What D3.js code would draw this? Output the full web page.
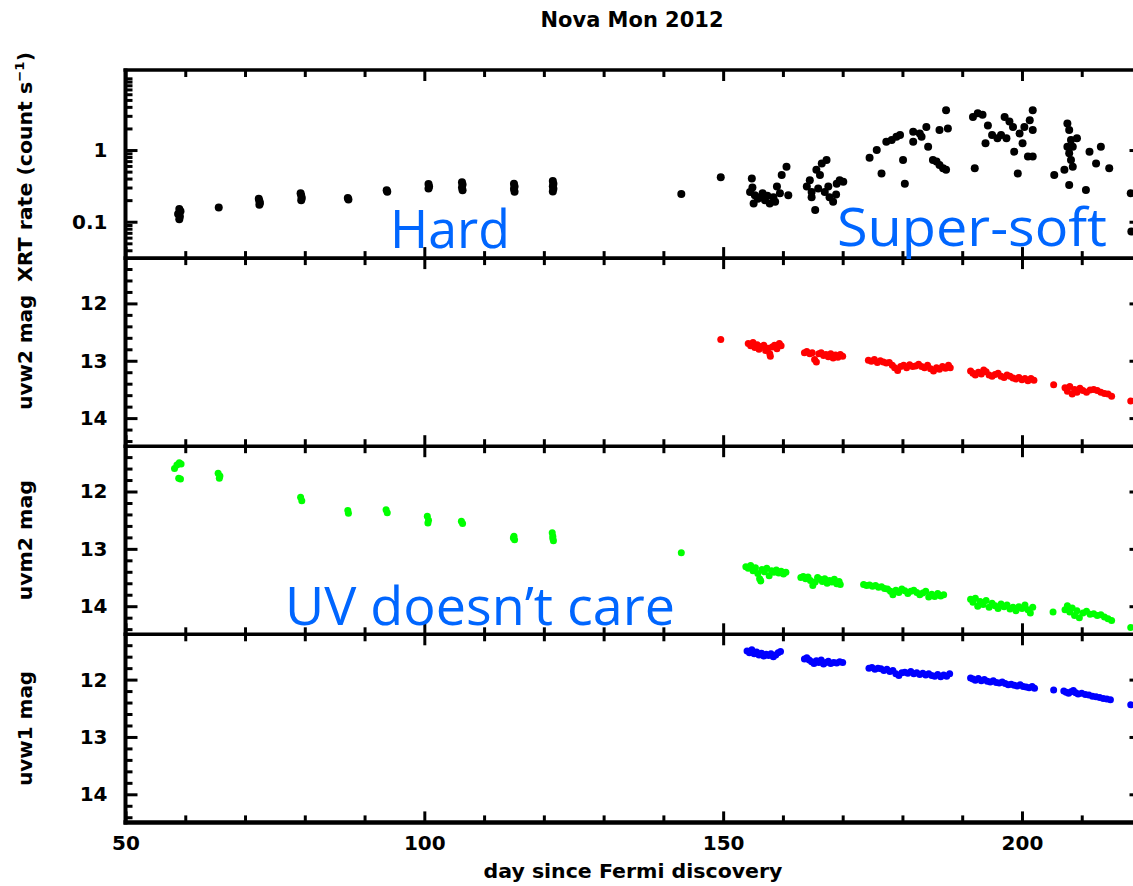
<!DOCTYPE html>
<html>
<head>
<meta charset="utf-8">
<script src="https://cdn.jsdelivr.net/npm/d3@7"></script>
<style>
  html, body { margin: 0; padding: 0; background: #fff; }
  svg { display: block; }
  .lbl { font-family: "DejaVu Sans", sans-serif; font-weight: bold; fill: #000; }
  .note { font-family: "Open Sans", sans-serif; font-weight: 400; fill: #0066ff; }
</style>
</head>
<body>
<svg id="chart" width="1133" height="886"></svg>
<script>
// ---- labels and ticks ----
const chartTitle = "Nova Mon 2012";
const xTitle = "day since Fermi discovery";
const xMajorTicks = [50, 100, 150, 200];
const xMinorTicks = [60, 70, 80, 90, 110, 120, 130, 140, 160, 170, 180, 190, 210];
const rateMajorTicks = [0.1, 1];
const rateMinorTicks = [0.04, 0.05, 0.06, 0.07, 0.08, 0.09, 0.2, 0.3, 0.4, 0.5, 0.6, 0.7, 0.8, 0.9, 2, 3, 4, 5, 6, 7, 8, 9, 10];
const magMajorTicks = [12, 13, 14];
const magMinorTicks = [11.4, 11.6, 11.8, 12.2, 12.4, 12.6, 12.8, 13.2, 13.4, 13.6, 13.8, 14.2, 14.4];
const notes = ["Hard", "Super-soft", "UV doesn\u2019t care"];

// ---- XRT count rate: [day, count/s] ----
const xrtRate = [
  [59.0,0.150],[59.2,0.140],[58.8,0.128],[59.1,0.118],[59.0,0.108],
  [65.6,0.158],
  [72.3,0.210],[72.4,0.195],[72.5,0.182],[72.4,0.172],
  [79.3,0.250],[79.4,0.232],[79.5,0.215],[79.4,0.200],
  [87.2,0.215],[87.3,0.205],
  [93.7,0.275],[93.8,0.262],
  [100.7,0.335],[100.8,0.310],[100.7,0.290],
  [106.3,0.355],[106.4,0.330],[106.3,0.300],[106.4,0.275],
  [115.0,0.340],[115.1,0.310],[115.0,0.285],[115.1,0.262],
  [121.5,0.370],[121.6,0.340],[121.5,0.312],[121.6,0.288],[121.5,0.265],
  [143.0,0.243],
  [149.6,0.416],
  [154.8,0.40],[154.5,0.26],[155.3,0.235],[155.1,0.18],[156.2,0.22],[157.0,0.20],
  [157.8,0.18],[158.4,0.22],[159.0,0.31],[159.8,0.45],[160.6,0.585],[160.9,0.235],
  [159.5,0.25],[158.7,0.19],[156.6,0.25],[157.4,0.23],[155.8,0.21],[154.9,0.30],
  [164.0,0.31],[164.5,0.38],[164.8,0.22],[165.4,0.146],[165.6,0.53],[166.2,0.45],
  [166.5,0.65],[167.3,0.725],[167.0,0.26],[167.8,0.22],[168.4,0.19],[169.0,0.34],
  [169.5,0.38],[170.1,0.36],[167.6,0.31],[164.8,0.26],[165.9,0.29],[168.9,0.24],
  [174.5,0.78],[175.7,1.00],[176.5,0.47],[177.3,1.30],[178.2,1.38],[179.0,1.53],
  [179.6,1.62],[180.1,0.725],[180.4,0.34],[181.8,1.30],[181.8,1.80],[182.9,1.70],
  [183.2,1.53],[184.0,2.10],[184.3,1.11],[185.1,0.725],[185.7,0.69],[186.2,0.62],
  [186.8,0.555],[187.3,0.53],[186.2,1.90],[187.6,2.00],[187.3,3.60],
  [191.8,2.90],[192.6,3.25],[193.4,3.10],[194.3,2.20],[192.1,0.555],[193.9,1.24],
  [195.0,1.62],[195.9,1.46],[197.1,2.90],[197.9,2.50],[198.5,2.10],[198.7,0.95],
  [199.3,0.47],[199.6,1.70],[200.1,1.24],[200.4,2.10],[201.3,2.60],[201.8,3.60],
  [201.8,1.90],[201.0,0.81],[201.8,0.81],[197.4,1.46],[196.5,1.62],
  [205.4,0.45],[207.1,0.53],[207.6,2.35],[207.9,1.90],[208.2,1.38],[207.6,1.11],
  [207.9,0.90],[208.2,0.725],[208.5,0.585],[207.9,0.325],[209.2,1.46],[208.5,1.11],
  [210.7,0.277],[211.3,0.95],[212.4,0.65],[213.2,1.11],[214.6,0.555],
  [218.2,0.25],[218.3,0.073]
];

// ---- UVOT uvw2 magnitudes: [day, mag] ----
const uvw2Mag = [
  [149.6,12.63],
  [154.2,12.70],[154.6,12.74],[155.0,12.68],[155.3,12.77],[155.7,12.72],[156.0,12.80],
  [156.4,12.75],[156.8,12.73],[157.1,12.82],[157.5,12.78],[157.8,12.88],[158.2,12.76],
  [158.6,12.73],[159.0,12.79],[159.4,12.70],[159.7,12.74],[157.9,12.92],
  [163.6,12.86],[164.0,12.84],[164.5,12.88],[164.9,12.86],[165.3,12.98],[165.6,13.02],
  [166.0,12.88],[166.4,12.86],[166.8,12.91],[167.2,12.89],[167.6,12.93],[168.0,12.88],
  [168.4,12.95],[168.8,12.90],[169.2,12.94],[169.6,12.89],[170.0,12.92],
  [174.3,12.99],[174.8,13.01],[175.3,12.98],[175.8,13.03],[176.3,13.00],[176.8,13.02],
  [177.3,13.04],[177.8,13.03],[178.3,13.08],[178.7,13.12],[179.2,13.17],[179.7,13.10],
  [180.2,13.08],[180.7,13.12],[181.2,13.07],[181.7,13.10],[182.2,13.09],[182.7,13.06],
  [183.2,13.10],[183.7,13.12],[184.2,13.08],[184.7,13.14],[185.2,13.18],[185.7,13.12],
  [186.2,13.15],[186.7,13.10],[187.2,13.13],[187.7,13.08],[188.0,13.12],
  [191.4,13.18],[191.8,13.22],[192.2,13.25],[192.7,13.20],[193.2,13.23],[193.6,13.16],
  [194.0,13.19],[194.5,13.25],[195.0,13.27],[195.5,13.24],[196.0,13.22],[196.5,13.27],
  [197.0,13.29],[197.5,13.25],[198.0,13.27],[198.5,13.30],[199.0,13.32],[199.5,13.29],
  [200.0,13.33],[200.5,13.31],[201.0,13.35],[201.5,13.31],[202.0,13.34],
  [205.3,13.42],
  [207.2,13.47],[207.6,13.53],[208.0,13.45],[208.4,13.58],[208.8,13.50],[209.2,13.55],
  [209.7,13.48],[210.2,13.52],[210.8,13.55],[211.4,13.51],[212.0,13.50],[212.6,13.52],
  [213.2,13.55],[213.8,13.57],[214.4,13.58],[215.0,13.62],
  [218.2,13.70]
];

// ---- UVOT uvm2 magnitudes: [day, mag] ----
const uvm2Mag = [
  [58.2,11.60],[58.6,11.54],[59.0,11.50],[59.3,11.52],[58.9,11.77],[59.2,11.78],
  [65.5,11.68],[65.8,11.73],[65.7,11.77],
  [79.3,12.10],[79.5,12.16],
  [87.2,12.33],[87.3,12.38],
  [93.6,12.32],[93.8,12.37],
  [100.5,12.43],[100.7,12.50],[100.6,12.55],
  [106.2,12.52],[106.4,12.56],
  [115.0,12.78],[115.1,12.84],[114.9,12.81],
  [121.4,12.72],[121.5,12.78],[121.6,12.86],[121.5,12.82],
  [143.0,13.07],
  [153.8,13.31],[154.2,13.34],[154.6,13.29],[155.0,13.38],[155.4,13.33],[155.8,13.43],
  [156.1,13.52],[156.5,13.36],[156.9,13.40],[157.3,13.34],[157.7,13.47],[158.1,13.38],
  [158.5,13.41],[158.9,13.37],[159.3,13.42],[159.7,13.39],[160.1,13.44],[160.5,13.41],
  [156.3,13.56],
  [163.0,13.50],[163.4,13.48],[163.8,13.52],[164.2,13.49],[164.6,13.55],[165.0,13.64],
  [165.4,13.58],[165.8,13.50],[166.2,13.53],[166.6,13.57],[167.0,13.52],[167.4,13.60],
  [167.8,13.55],[168.2,13.58],[168.6,13.53],[169.0,13.61],[169.4,13.57],[169.6,13.62],
  [173.5,13.62],[174.0,13.64],[174.5,13.63],[175.0,13.65],[175.5,13.64],[176.0,13.67],
  [176.5,13.66],[177.0,13.69],[177.5,13.70],[178.0,13.74],[178.4,13.80],[178.9,13.72],
  [179.4,13.76],[179.9,13.70],[180.4,13.73],[180.9,13.78],[181.4,13.74],[181.9,13.72],
  [182.4,13.76],[182.9,13.80],[183.4,13.77],[183.9,13.74],[184.4,13.84],[184.9,13.79],
  [185.4,13.83],[185.9,13.78],[186.4,13.82],[186.9,13.80],
  [191.4,13.88],[191.8,13.93],[192.2,13.86],[192.6,14.00],[193.0,13.92],[193.5,13.97],
  [194.0,13.90],[194.5,14.02],[195.0,13.95],[195.5,13.99],[196.0,14.04],[196.5,13.96],
  [197.0,14.01],[197.5,13.98],[198.0,14.05],[198.5,14.02],[199.0,14.08],[199.5,14.01],
  [200.0,14.04],[200.5,13.98],[201.0,14.06],[201.4,14.12],[201.8,14.02],
  [205.2,14.10],
  [207.2,14.06],[207.6,13.99],[208.0,14.10],[208.4,14.03],[208.8,14.16],[209.2,14.08],
  [209.6,14.20],[210.2,14.12],[210.8,14.09],[211.4,14.14],[212.0,14.13],[212.6,14.16],
  [213.2,14.15],[213.8,14.19],[214.4,14.22],[215.0,14.25],
  [218.2,14.37]
];

// ---- UVOT uvw1 magnitudes: [day, mag] ----
const uvw1Mag = [
  [154.0,11.50],[154.4,11.53],[154.8,11.48],[155.2,11.55],[155.6,11.52],[156.0,11.57],
  [156.4,11.54],[156.8,11.59],[157.2,11.56],[157.6,11.58],[158.0,11.55],[158.4,11.60],
  [158.8,11.57],[159.2,11.53],[159.6,11.51],
  [163.6,11.64],[164.0,11.62],[164.4,11.66],[164.8,11.69],[165.2,11.72],[165.6,11.67],
  [166.0,11.70],[166.4,11.66],[166.8,11.73],[167.2,11.70],[167.6,11.68],[168.0,11.72],
  [168.5,11.70],[169.0,11.71],[169.5,11.69],[170.0,11.70],
  [174.4,11.80],[174.9,11.79],[175.4,11.82],[175.9,11.80],[176.4,11.81],[176.9,11.84],
  [177.4,11.82],[177.9,11.86],[178.4,11.84],[178.9,11.90],[179.4,11.93],[179.9,11.88],
  [180.4,11.87],[180.9,11.89],[181.4,11.86],[181.9,11.90],[182.4,11.88],[182.9,11.91],
  [183.4,11.89],[183.9,11.92],[184.4,11.90],[184.9,11.93],[185.4,11.94],[185.9,11.91],
  [186.4,11.95],[186.9,11.92],[187.4,11.94],[187.9,11.90],
  [191.4,11.97],[191.8,11.99],[192.2,12.01],[192.7,11.98],[193.2,12.02],[193.7,12.00],
  [194.2,12.03],[194.7,12.04],[195.2,12.02],[195.7,12.05],[196.2,12.06],[196.7,12.04],
  [197.2,12.07],[197.7,12.09],[198.2,12.08],[198.7,12.10],[199.2,12.11],[199.7,12.09],
  [200.2,12.12],[200.7,12.13],[201.2,12.14],[201.7,12.12],[202.1,12.15],
  [205.3,12.18],
  [207.0,12.20],[207.4,12.22],[207.8,12.24],[208.2,12.21],[208.6,12.19],[209.0,12.23],
  [209.4,12.25],[210.0,12.24],[210.6,12.26],[211.2,12.27],[211.8,12.29],[212.4,12.30],
  [213.0,12.31],[213.6,12.33],[214.2,12.34],[214.8,12.35],
  [218.2,12.44]
];

// ---- layout ----
const svg = d3.select("#chart");
const left = 125.5, right = 1141.5;
const top0 = 70, panelH = 188.1;
const panelTop = i => top0 + i * panelH;

const x = d3.scaleLinear().domain([50, 220]).range([left, right]);

const yRate = d3.scaleLog().domain([0.0311, 13.07]).range([panelTop(0) + panelH, panelTop(0)]);
const magScale = i => d3.scaleLinear().domain([11.21, 14.49]).range([panelTop(i), panelTop(i) + panelH]);

const panels = [
  { y: yRate, data: xrtRate, color: "#000000", r: 4, major: rateMajorTicks, minor: rateMinorTicks,
    fmt: d => (d < 1 ? d3.format(".1f")(d) : d3.format("d")(d)) },
  { y: magScale(1), data: uvw2Mag, color: "#ff0000", r: 3.5, major: magMajorTicks, minor: magMinorTicks, fmt: d3.format("d") },
  { y: magScale(2), data: uvm2Mag, color: "#00ff00", r: 3.5, major: magMajorTicks, minor: magMinorTicks, fmt: d3.format("d") },
  { y: magScale(3), data: uvw1Mag, color: "#0000ff", r: 3.5, major: magMajorTicks, minor: magMinorTicks, fmt: d3.format("d") }
];

svg.append("defs").append("clipPath").attr("id", "plotClip")
  .append("rect").attr("x", left).attr("y", top0).attr("width", right - left).attr("height", panelH * 4);

function styleAxis(g) {
  g.select(".domain").remove();
  g.selectAll(".tick line").attr("stroke", "#000").attr("stroke-width", 3);
  g.selectAll(".tick text").attr("class", "lbl").attr("font-size", 20).attr("fill", "#000");
}

// data points
panels.forEach(p => {
  svg.append("g").attr("clip-path", "url(#plotClip)")
    .selectAll("circle").data(p.data).join("circle")
    .attr("cx", d => x(d[0])).attr("cy", d => p.y(d[1]))
    .attr("r", p.r).attr("fill", p.color);
});

// axes for each panel
panels.forEach((p, i) => {
  const t = panelTop(i), b = t + panelH;
  // left: labelled major ticks + minor ticks, pointing inward
  svg.append("g").attr("transform", `translate(${left},0)`)
    .call(d3.axisLeft(p.y).tickValues(p.major).tickFormat(p.fmt).tickSize(-12).tickPadding(18))
    .call(styleAxis);
  svg.append("g").attr("transform", `translate(${left},0)`)
    .call(d3.axisLeft(p.y).tickValues(p.minor).tickFormat("").tickSize(-7))
    .call(styleAxis);
  // right: mirrored ticks
  svg.append("g").attr("transform", `translate(${right},0)`)
    .call(d3.axisRight(p.y).tickValues(p.major).tickFormat("").tickSize(-12))
    .call(styleAxis);
  svg.append("g").attr("transform", `translate(${right},0)`)
    .call(d3.axisRight(p.y).tickValues(p.minor).tickFormat("").tickSize(-7))
    .call(styleAxis);
  // top and bottom edges: inward ticks
  svg.append("g").attr("transform", `translate(0,${t})`)
    .call(d3.axisTop(x).tickValues(xMajorTicks).tickFormat("").tickSize(-11)).call(styleAxis);
  svg.append("g").attr("transform", `translate(0,${t})`)
    .call(d3.axisTop(x).tickValues(xMinorTicks).tickFormat("").tickSize(-7)).call(styleAxis);
  svg.append("g").attr("transform", `translate(0,${b})`)
    .call(d3.axisBottom(x).tickValues(xMajorTicks).tickFormat(i === 3 ? d3.format("d") : "").tickSize(-11).tickPadding(13))
    .call(styleAxis);
  svg.append("g").attr("transform", `translate(0,${b})`)
    .call(d3.axisBottom(x).tickValues(xMinorTicks).tickFormat("").tickSize(-7)).call(styleAxis);
});

// frame lines
const frame = svg.append("g").attr("stroke", "#000").attr("fill", "none");
frame.append("line").attr("x1", left).attr("x2", left).attr("y1", top0 - 1.5).attr("y2", panelTop(4) + 2).attr("stroke-width", 4);
frame.append("line").attr("x1", right).attr("x2", right).attr("y1", top0 - 1.5).attr("y2", panelTop(4) + 2).attr("stroke-width", 4);
d3.range(5).forEach(i => {
  frame.append("line").attr("x1", left - 2).attr("x2", right + 2)
    .attr("y1", panelTop(i)).attr("y2", panelTop(i)).attr("stroke-width", i === 4 ? 4.5 : 3.6);
});

// title
svg.append("text").attr("class", "lbl").attr("x", 632).attr("y", 27)
  .attr("text-anchor", "middle").attr("font-size", 21)
  .attr("textLength", 183).attr("lengthAdjust", "spacingAndGlyphs").text(chartTitle);

// x axis title
svg.append("text").attr("class", "lbl").attr("x", 633).attr("y", 878)
  .attr("text-anchor", "middle").attr("font-size", 20)
  .attr("textLength", 299).attr("lengthAdjust", "spacingAndGlyphs").text(xTitle);

// y axis titles
const yLabelX = 32;
const xrtLab = svg.append("text").attr("class", "lbl").attr("font-size", 20)
  .attr("text-anchor", "middle").attr("transform", `translate(${yLabelX},167) rotate(-90)`)
  .attr("textLength", 230).attr("lengthAdjust", "spacingAndGlyphs");
xrtLab.append("tspan").text("XRT rate (count s");
xrtLab.append("tspan").attr("font-size", 13).attr("dy", -8).text("\u22121");
xrtLab.append("tspan").attr("dy", 8).text(")");

[["uvw2 mag", 1, 115], ["uvm2 mag", 2, 120], ["uvw1 mag", 3, 115]].forEach(([s, i, len]) => {
  svg.append("text").attr("class", "lbl").attr("font-size", 19)
    .attr("text-anchor", "middle")
    .attr("transform", `translate(${yLabelX},${panelTop(i) + panelH / 2}) rotate(-90)`)
    .attr("textLength", len).attr("lengthAdjust", "spacingAndGlyphs").text(s);
});

// phase annotations
const notePos = [[390, 248, 120], [837, 246, 270], [285, 625, 390]];
notes.forEach((s, k) => {
  const [nx, ny, len] = notePos[k];
  svg.append("text").attr("class", "note").attr("x", nx).attr("y", ny)
    .attr("font-size", 53).attr("textLength", len).attr("lengthAdjust", "spacingAndGlyphs").text(s);
});
</script>
</body>
</html>
